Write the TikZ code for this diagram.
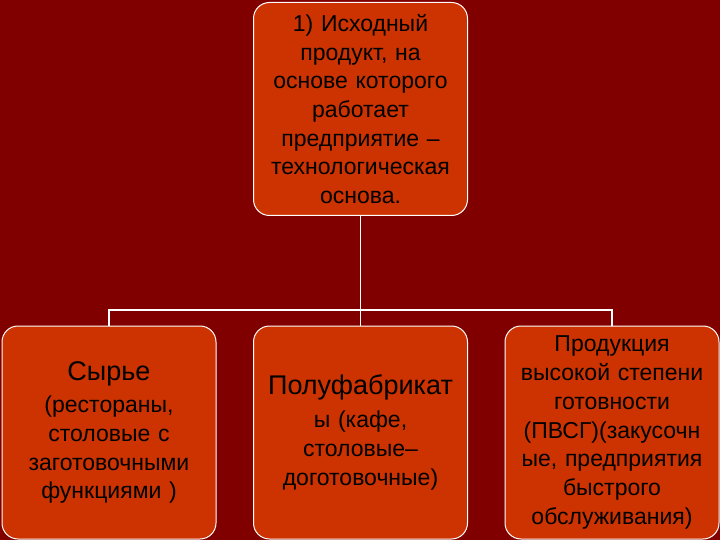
\documentclass[tikz,border=0pt]{standalone}
\usepackage{fontspec}
\setmainfont{Liberation Sans}
\definecolor{bg}{HTML}{800000}
\definecolor{boxc}{HTML}{CC3300}
\begin{document}
\begin{tikzpicture}[x=1pt,y=-1pt,
  box/.style={draw=white,line width=1pt,fill=boxc,rounded corners=16pt,minimum width=214pt,minimum height=213pt,text width=212pt,align=center,inner sep=1pt,font=\fontsize{23}{28.7}\selectfont},
  conn/.style={draw=white,line width=1.6pt}]
\fill[bg] (0,0) rectangle (720,540);
\useasboundingbox (0,0) rectangle (720,540);
\node[box] (top) at (360.5,109) {1) Исходный\\продукт, на\\основе которого\\работает\\предприятие –\\технологическая\\основа.};
\node[box] (l) at (109,432.5) {{\fontsize{27}{33}\selectfont Сырье}\\[4pt](рестораны,\\столовые с\\заготовочными\\функциями )};
\node[box] (m) at (360.5,432.5) {{\fontsize{27}{33}\selectfont Полуфабрикат}\\[4pt]ы (кафе,\\столовые–\\доготовочные)};
\node[box] (r) at (612,432.5) {Продукция\\высокой степени\\готовности\\(ПВСГ)(закусочн\\ые, предприятия\\быстрого\\обслуживания)};
\coordinate (j) at (360.5,310);
\draw[conn] (top.south) -- (j);
\draw[conn] (l.north) -- (109,310) -- (612,310) -- (r.north);
\draw[conn] (j) -- (m.north);
\end{tikzpicture}
\end{document}
